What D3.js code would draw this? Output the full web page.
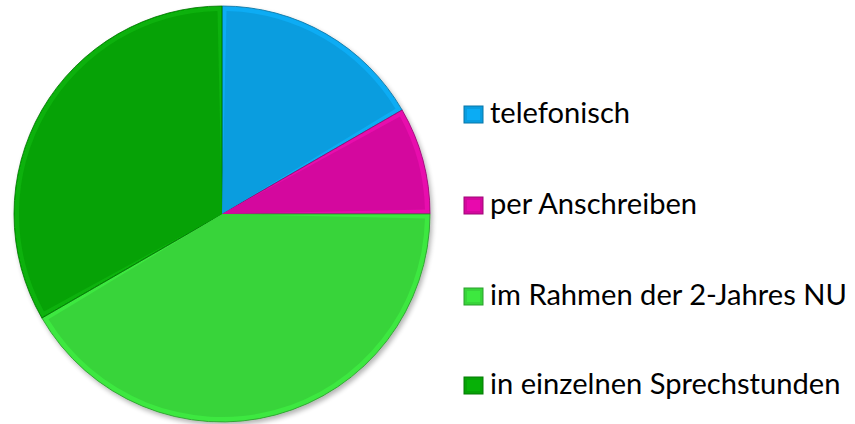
<!DOCTYPE html>
<html>
<head>
<meta charset="utf-8">
<script src="https://cdn.jsdelivr.net/npm/d3@7"></script>
<style>
  body { margin: 0; background: #fff; }
  svg { display: block; }
</style>
</head>
<body>
<div id="chart"></div>
<script>
// Données
const categories = ["telefonisch", "per Anschreiben", "im Rahmen der 2-Jahres NU", "in einzelnen Sprechstunden"];
const values = [2, 1, 5, 4];
const colors = ["#0a9ddf", "#d4089e", "#38d43a", "#06a206"];

const width = 855;
const height = 424;
const cx = 222;
const cy = 214;
const radius = 208;

const svg = d3.select("#chart")
    .append("svg")
    .attr("width", width)
    .attr("height", height);

const defs = svg.append("defs");

// ombre portée
const shadow = defs.append("filter")
    .attr("id", "shadow")
    .attr("x", "-10%").attr("y", "-10%")
    .attr("width", "120%").attr("height", "120%");
shadow.append("feGaussianBlur").attr("in", "SourceAlpha").attr("stdDeviation", 2.5);
shadow.append("feOffset").attr("dx", 2).attr("dy", 3).attr("result", "blur");
shadow.append("feComponentTransfer").append("feFuncA").attr("type", "linear").attr("slope", 0.3);
const merge = shadow.append("feMerge");
merge.append("feMergeNode");
merge.append("feMergeNode").attr("in", "SourceGraphic");

// Camembert
const tidyData = categories.map((c, i) => ({ label: c, value: values[i], col: colors[i] }));

const pie = d3.pie()
    .sort(null)
    .value(d => d.value);

const arcs = pie(tidyData);

const arcOuter = d3.arc()
    .innerRadius(0)
    .outerRadius(radius);

const arcInner = d3.arc()
    .innerRadius(0)
    .outerRadius(radius - 5)
    .padRadius(radius)
    .padAngle(9 / radius);

const svgPlot = svg.append("g")
    .attr("transform", `translate(${cx}, ${cy})`);

const slices = svgPlot.append("g")
    .attr("filter", "url(#shadow)");

slices.selectAll("path.edge")
    .data(arcs)
    .join("path")
    .attr("class", "edge")
    .attr("d", arcOuter)
    .attr("fill", d => d3.color(d.data.col).brighter(0.25))
    .attr("stroke", d => d3.color(d.data.col).darker(1))
    .attr("stroke-width", 0.8);

svgPlot.selectAll("path.face")
    .data(arcs)
    .join("path")
    .attr("class", "face")
    .attr("d", arcInner)
    .attr("fill", d => d.data.col);

// Légende
const legendY = [123, 214, 305, 394];

const legend = svg.selectAll(".legend")
    .data(tidyData)
    .join("g")
    .attr("class", "legend")
    .attr("transform", (d, i) => `translate(464, ${legendY[i]})`);

legend.append("rect")
    .attr("x", 0)
    .attr("y", -17)
    .attr("width", 19)
    .attr("height", 17)
    .attr("fill", d => d.col)
    .attr("stroke", d => d3.color(d.col).darker(0.8))
    .attr("stroke-width", 1);

legend.append("rect")
    .attr("x", 3)
    .attr("y", -14)
    .attr("width", 13)
    .attr("height", 11)
    .attr("fill", d => d3.color(d.col).brighter(0.25));

const labels = legend.append("text")
    .attr("x", 26)
    .attr("y", 0)
    .attr("font-family", "Lato, sans-serif")
    .attr("font-size", "26px")
    .attr("fill", "#000")
    .text(d => d.label);

// ajuster la taille pour la largeur du libellé le plus long
const longest = d3.max(labels.nodes(), n => n.getComputedTextLength());
const fs = 26 * 357 / longest;
labels.attr("font-size", fs + "px");
</script>
</body>
</html>
